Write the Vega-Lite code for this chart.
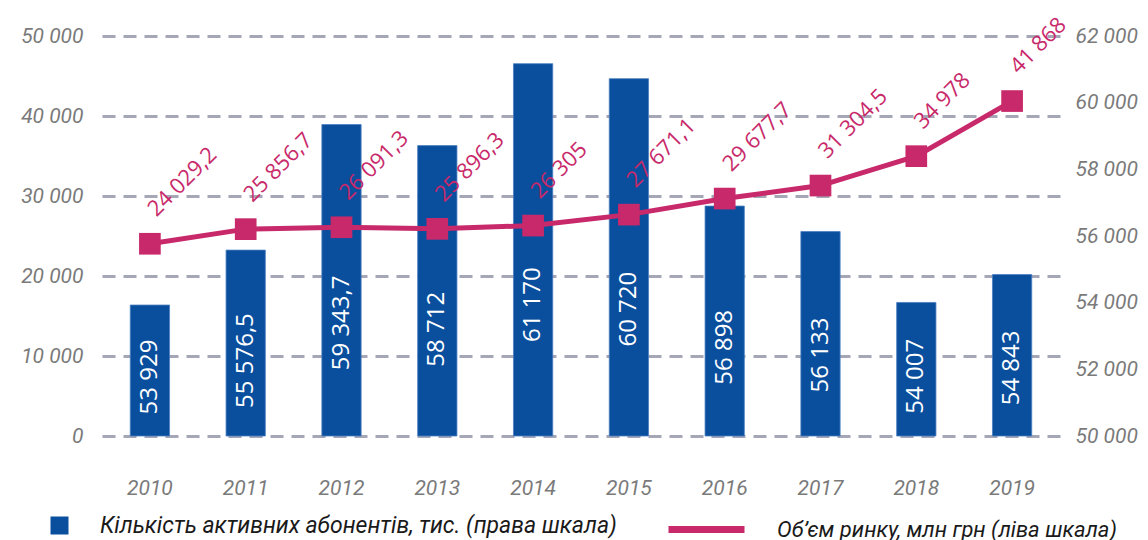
{
  "$schema": "https://vega.github.io/schema/vega-lite/v6.json",
  "width": 958,
  "height": 400,
  "autosize": {"type": "none"},
  "padding": {"left": 102, "top": 36, "right": 88, "bottom": 104},
  "background": "white",
  "config": {
    "locale": {"number": {"decimal": ",", "thousands": " ", "grouping": [3], "currency": ["", ""]}},
    "view": {"stroke": null},
    "font": "Roboto"
  },
  "data": {
    "values": [
      {"year": "2010", "subs": 53929, "market": 24029.2},
      {"year": "2011", "subs": 55576.5, "market": 25856.7},
      {"year": "2012", "subs": 59343.7, "market": 26091.3},
      {"year": "2013", "subs": 58712, "market": 25896.3},
      {"year": "2014", "subs": 61170, "market": 26305},
      {"year": "2015", "subs": 60720, "market": 27671.1},
      {"year": "2016", "subs": 56898, "market": 29677.7},
      {"year": "2017", "subs": 56133, "market": 31304.5},
      {"year": "2018", "subs": 54007, "market": 34978},
      {"year": "2019", "subs": 54843, "market": 41868}
    ]
  },
  "encoding": {
    "x": {
      "field": "year",
      "type": "ordinal",
      "scale": {"paddingInner": 0.59, "paddingOuter": 0.295},
      "axis": {
        "title": null, "domain": false, "ticks": false, "labelAngle": 0,
        "labelFont": "Roboto", "labelFontStyle": "italic", "labelFontSize": 21,
        "labelColor": "#7a7a7a", "labelPadding": 41
      }
    }
  },
  "layer": [
    {
      "encoding": {
        "y": {
          "field": "subs",
          "type": "quantitative",
          "scale": {"domain": [50000, 62000], "zero": false, "nice": false},
          "axis": {
            "orient": "right", "title": null,
            "values": [50000, 52000, 54000, 56000, 58000, 60000, 62000],
            "format": ",d", "domain": false, "ticks": false, "grid": false,
            "labelFont": "Roboto", "labelFontStyle": "italic", "labelFontSize": 21,
            "labelColor": "#7a7a7a", "labelPadding": 15
          }
        }
      },
      "layer": [
        {
          "mark": {"type": "bar", "stroke": "#4a7fc0", "strokeWidth": 0.8},
          "encoding": {
            "y2": {"datum": 50000},
            "fill": {
              "datum": "Кількість активних абонентів, тис. (права шкала)",
              "scale": {"range": ["#0a4f9e"]},
              "legend": {
                "orient": "none", "legendX": -54, "legendY": 478, "title": null,
                "symbolType": "square", "symbolSize": 324, "symbolStrokeWidth": 0,
                "labelFont": "Roboto", "labelFontStyle": "italic", "labelFontSize": 23,
                "labelColor": "#1a1a1a", "labelOffset": 29, "labelLimit": 700
              }
            }
          }
        },
        {
          "transform": [{"calculate": "50590 + 0.3 * (datum.subs - 50000)", "as": "labelAt"}],
          "mark": {
            "type": "text", "angle": 270, "align": "center", "baseline": "middle",
            "font": "Open Sans", "fontSize": 24, "color": "white"
          },
          "encoding": {
            "y": {"field": "labelAt", "type": "quantitative"},
            "text": {"field": "subs", "type": "quantitative", "format": ",~f"}
          }
        }
      ]
    },
    {
      "encoding": {
        "y": {
          "field": "market",
          "type": "quantitative",
          "scale": {"domain": [0, 50000], "nice": false},
          "axis": {
            "orient": "left", "title": null,
            "values": [0, 10000, 20000, 30000, 40000, 50000],
            "format": ",d", "domain": false, "ticks": false, "grid": true,
            "gridDash": [13, 8], "gridWidth": 3, "gridColor": "#a5a6b6",
            "labelFont": "Roboto", "labelFontStyle": "italic", "labelFontSize": 21,
            "labelColor": "#7a7a7a", "labelPadding": 19
          }
        }
      },
      "layer": [
        {
          "mark": {"type": "line", "strokeWidth": 5},
          "encoding": {
            "stroke": {
              "datum": "Об’єм ринку, млн грн (ліва шкала)",
              "scale": {"range": ["#c8296a"]},
              "legend": {
                "orient": "none", "legendX": 563, "legendY": 452, "title": null,
                "symbolType": "stroke", "symbolSize": 5776, "symbolStrokeWidth": 7,
                "labelFont": "Roboto", "labelFontStyle": "italic", "labelFontSize": 22,
                "labelColor": "#1a1a1a", "labelOffset": 29, "labelLimit": 700
              }
            }
          }
        },
        {
          "mark": {"type": "point", "shape": "square", "filled": true, "size": 470, "color": "#c8296a", "opacity": 1}
        },
        {
          "mark": {
            "type": "text", "angle": 315, "align": "left", "baseline": "alphabetic",
            "radius": 27, "theta": 0.25, "font": "Open Sans", "fontSize": 22, "color": "#c8296a"
          },
          "encoding": {
            "text": {"field": "market", "type": "quantitative", "format": ",~f"}
          }
        }
      ]
    }
  ],
  "resolve": {"scale": {"y": "independent"}}
}
